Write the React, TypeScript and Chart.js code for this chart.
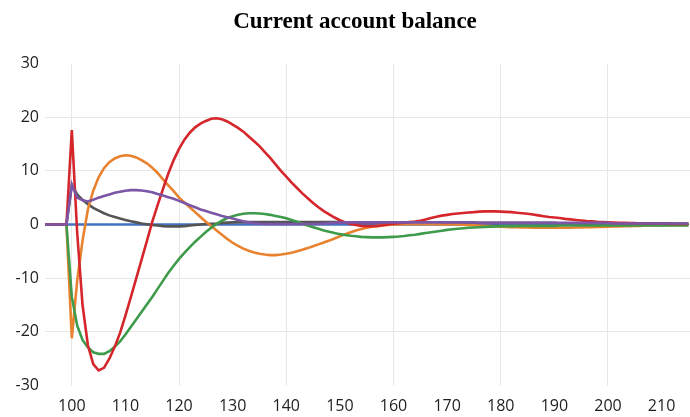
import { useEffect, useRef } from "react";
import { Chart, registerables } from "chart.js";

Chart.register(...registerables);

const chartTitle = "Current account balance";

const periods = [
  95, 96, 97, 98, 99,
  100, 101, 102, 103, 104, 105, 106, 107, 108, 109,
  110, 111, 112, 113, 114, 115, 116, 117, 118, 119,
  120, 121, 122, 123, 124, 125, 126, 127, 128, 129,
  130, 131, 132, 133, 134, 135, 136, 137, 138, 139,
  140, 141, 142, 143, 144, 145, 146, 147, 148, 149,
  150, 151, 152, 153, 154, 155, 156, 157, 158, 159,
  160, 161, 162, 163, 164, 165, 166, 167, 168, 169,
  170, 171, 172, 173, 174, 175, 176, 177, 178, 179,
  180, 181, 182, 183, 184, 185, 186, 187, 188, 189,
  190, 191, 192, 193, 194, 195, 196, 197, 198, 199,
  200, 201, 202, 203, 204, 205, 206, 207, 208, 209,
  210, 211, 212, 213, 214, 215,
];

const xTickValues = [100, 110, 120, 130, 140, 150, 160, 170, 180, 190, 200, 210];
const yTickValues = [-30, -20, -10, 0, 10, 20, 30];

const blueSeries = [
  0, 0, 0, 0, 0,
  0, 0, 0, 0, 0, 0, 0, 0, 0, 0,
  0, 0, 0, 0, 0, 0, 0, 0, 0, 0,
  0, 0, 0, 0, 0, 0, 0, 0, 0, 0,
  0, 0, 0, 0, 0, 0, 0, 0, 0, 0,
  0, 0, 0, 0, 0, 0, 0, 0, 0, 0,
  0, 0, 0, 0, 0, 0, 0, 0, 0, 0,
  0, 0, 0, 0, 0, 0, 0, 0, 0, 0,
  0, 0, 0, 0, 0, 0, 0, 0, 0, 0,
  0, 0, 0, 0, 0, 0, 0, 0, 0, 0,
  0, 0, 0, 0, 0, 0, 0, 0, 0, 0,
  0, 0, 0, 0, 0, 0, 0, 0, 0, 0,
  0, 0, 0, 0, 0, 0,
];

const redSeries = [
  0, 0, 0, 0, 0,
  17.6, -1.5, -15, -22.5, -26, -27.2, -26.7, -25, -22.8, -20.2,
  -17, -13.6, -10.1, -6.6, -3.1, 0.5, 3.6, 6.6, 9.5, 12,
  14.1, 15.8, 17.1, 18.1, 18.8, 19.3, 19.7, 19.8, 19.6, 19.2,
  18.6, 18.0, 17.3, 16.4, 15.5, 14.6, 13.5, 12.4, 11.2, 10.0,
  8.9, 7.8, 6.8, 5.8, 4.9, 4.0, 3.2, 2.5, 1.9, 1.3,
  0.8, 0.4, 0.1, -0.1, -0.25, -0.3, -0.3, -0.25, -0.15, 0,
  0.15, 0.25, 0.35, 0.45, 0.55, 0.7, 0.95, 1.2, 1.45, 1.65,
  1.8, 1.95, 2.05, 2.15, 2.25, 2.3, 2.4, 2.45, 2.45, 2.45,
  2.4, 2.35, 2.3, 2.2, 2.1, 2.0, 1.85, 1.7, 1.55, 1.4,
  1.3, 1.2, 1.05, 0.95, 0.85, 0.75, 0.65, 0.6, 0.5, 0.45,
  0.4, 0.35, 0.3, 0.3, 0.25, 0.25, 0.2, 0.2, 0.2, 0.15,
  0.15, 0.15, 0.1, 0.1, 0.1, 0.1,
];

const orangeSeries = [
  0, 0, 0, 0, 0,
  -21.2, -10.5, -3, 2.8, 6.3, 8.8, 10.5, 11.6, 12.3, 12.7,
  12.9, 12.8, 12.5, 12.0, 11.4, 10.6, 9.6, 8.4, 7.3, 6.2,
  5.0, 4.1, 3.2, 2.3, 1.4, 0.5, -0.3, -1.1, -1.9, -2.7,
  -3.4, -4.0, -4.5, -4.9, -5.2, -5.45, -5.6, -5.7, -5.7, -5.6,
  -5.45, -5.25, -5.0, -4.7, -4.4, -4.05, -3.7, -3.35, -3.0, -2.6,
  -2.2, -1.8, -1.45, -1.1, -0.85, -0.6, -0.4, -0.3, -0.2, -0.1,
  0, 0, 0.05, 0.05, 0.05, 0.05, 0.05, 0.05, 0.05, 0,
  0, 0, 0, -0.05, -0.1, -0.15, -0.2, -0.25, -0.3, -0.35,
  -0.4, -0.45, -0.5, -0.5, -0.55, -0.55, -0.6, -0.6, -0.6, -0.6,
  -0.6, -0.6, -0.6, -0.6, -0.55, -0.55, -0.5, -0.5, -0.45, -0.45,
  -0.4, -0.35, -0.35, -0.3, -0.3, -0.25, -0.25, -0.2, -0.2, -0.2,
  -0.15, -0.15, -0.15, -0.1, -0.1, -0.1,
];

const greenSeries = [
  0, 0, 0, 0, 0,
  -13.5, -18.8, -21.5, -22.9, -23.8, -24.1, -24.1, -23.6, -22.8, -21.8,
  -20.5, -19.1, -17.7, -16.3, -14.9, -13.5, -12.0, -10.5, -9.0, -7.7,
  -6.4, -5.3, -4.2, -3.2, -2.3, -1.4, -0.6, 0.1, 0.7, 1.2,
  1.55, 1.8, 2.0, 2.1, 2.1, 2.05, 1.95, 1.8, 1.6, 1.4,
  1.15, 0.85, 0.5, 0.15, -0.2, -0.5, -0.8, -1.1, -1.35, -1.6,
  -1.8, -1.95, -2.1, -2.2, -2.3, -2.35, -2.4, -2.4, -2.4, -2.35,
  -2.3, -2.25, -2.15, -2.0, -1.9, -1.75, -1.6, -1.45, -1.3, -1.15,
  -1.0, -0.9, -0.8, -0.7, -0.6, -0.55, -0.5, -0.45, -0.4, -0.35,
  -0.3, -0.3, -0.3, -0.25, -0.25, -0.25, -0.25, -0.25, -0.25, -0.25,
  -0.25, -0.2, -0.2, -0.2, -0.2, -0.2, -0.2, -0.2, -0.2, -0.2,
  -0.2, -0.2, -0.2, -0.2, -0.2, -0.2, -0.2, -0.2, -0.2, -0.2,
  -0.2, -0.2, -0.2, -0.2, -0.2, -0.2,
];

const purpleSeries = [
  0, 0, 0, 0, 0,
  7.5, 5.0, 4.5, 4.3, 4.6, 5.0, 5.3, 5.6, 5.9, 6.1,
  6.3, 6.4, 6.4, 6.35, 6.2, 6.0, 5.7, 5.4, 5.1, 4.8,
  4.4, 4.0, 3.6, 3.2, 2.8, 2.5, 2.2, 1.9, 1.6, 1.35,
  1.1, 0.85, 0.6, 0.4, 0.25, 0.15, 0.1, 0.1, 0.1, 0.1,
  0.1, 0.1, 0.1, 0.1, 0.1, 0.1, 0.15, 0.2, 0.25, 0.3,
  0.35, 0.4, 0.4, 0.4, 0.4, 0.4, 0.4, 0.4, 0.4, 0.4,
  0.4, 0.4, 0.4, 0.4, 0.4, 0.4, 0.4, 0.4, 0.4, 0.4,
  0.4, 0.4, 0.4, 0.4, 0.4, 0.4, 0.3, 0.3, 0.3, 0.3,
  0.3, 0.3, 0.3, 0.3, 0.3, 0.3, 0.3, 0.3, 0.3, 0.3,
  0.3, 0.3, 0.3, 0.3, 0.3, 0.3, 0.3, 0.3, 0.3, 0.3,
  0.3, 0.2, 0.2, 0.2, 0.2, 0.2, 0.2, 0.2, 0.2, 0.2,
  0.2, 0.2, 0.2, 0.2, 0.2, 0.2,
];

const graySeries = [
  0, 0, 0, 0, 0,
  7.3, 5.6, 4.6, 3.8, 3.1, 2.6, 2.1, 1.7, 1.4, 1.1,
  0.85, 0.6, 0.4, 0.2, 0.05, -0.1, -0.2, -0.3, -0.35, -0.35,
  -0.35, -0.3, -0.2, -0.1, 0, 0.1, 0.15, 0.2, 0.3, 0.35,
  0.4, 0.45, 0.45, 0.45, 0.45, 0.45, 0.45, 0.45, 0.45, 0.45,
  0.45, 0.45, 0.45, 0.45, 0.45, 0.45, 0.45, 0.45, 0.45, 0.45,
  0.45, 0.4, 0.4, 0.4, 0.4, 0.4, 0.4, 0.4, 0.4, 0.4,
  0.4, 0.4, 0.4, 0.4, 0.4, 0.4, 0.4, 0.4, 0.4, 0.4,
  0.4, 0.3, 0.3, 0.3, 0.3, 0.3, 0.3, 0.3, 0.3, 0.3,
  0.3, 0.3, 0.3, 0.3, 0.3, 0.3, 0.3, 0.3, 0.3, 0.3,
  0.3, 0.2, 0.2, 0.2, 0.2, 0.2, 0.2, 0.2, 0.2, 0.2,
  0.2, 0.2, 0.2, 0.2, 0.2, 0.2, 0.2, 0.2, 0.2, 0.2,
  0.2, 0.2, 0.2, 0.2, 0.2, 0.2,
];

const seriesList = [
  { name: "Series 6", values: purpleSeries, color: "#7b55a6" },
  { name: "Series 4", values: redSeries, color: "#d5262c" },
  { name: "Series 5", values: greenSeries, color: "#3d9b4b" },
  { name: "Series 2", values: orangeSeries, color: "#e8822e" },
  { name: "Series 3", values: graySeries, color: "#555555" },
  { name: "Series 1", values: blueSeries, color: "#4472c4" },
];

const tickFont = { family: "'Open Sans', 'Noto Sans', sans-serif", size: 16 };
const tickColor = "#1e1e1e";
const gridColor = "#e7e7e7";

const titlePlugin = {
  id: "offsetTitle",
  afterDraw(chart: any) {
    const ctx = chart.ctx;
    ctx.save();
    ctx.font = "bold 23px 'Liberation Serif', 'Times New Roman', serif";
    ctx.fillStyle = "#000000";
    ctx.textAlign = "center";
    ctx.textBaseline = "middle";
    ctx.fillText(chartTitle, 355, 22);
    ctx.restore();
  },
};

export default function App() {
  const canvasRef = useRef<HTMLCanvasElement | null>(null);

  useEffect(() => {
    const canvas = canvasRef.current;
    if (!canvas) return;
    const chart = new Chart(canvas, {
      type: "line",
      data: {
        datasets: seriesList.map((s) => ({
          label: s.name,
          data: periods.map((p, i) => ({ x: p, y: s.values[i] })),
          borderColor: s.color,
          backgroundColor: s.color,
          borderWidth: 2.6,
          pointRadius: 0,
          pointHoverRadius: 0,
          tension: 0,
          fill: false,
        })),
      },
      options: {
        animation: false,
        responsive: true,
        maintainAspectRatio: false,
        layout: { padding: { left: 0, right: 0, top: 63.5, bottom: 0 } },
        plugins: {
          legend: { display: false },
          tooltip: { enabled: false },
          title: { display: false },
        },
        scales: {
          x: {
            type: "linear",
            min: 95,
            max: 215.3,
            afterBuildTicks: (scale: any) => {
              scale.ticks = xTickValues.map((v) => ({ value: v }));
            },
            afterFit: (scale: any) => {
              scale.height = 31.5;
            },
            grid: {
              drawTicks: false,
              color: (ctx: any) =>
                ctx.tick && ctx.tick.value % 20 === 0 ? gridColor : "rgba(0,0,0,0)",
              lineWidth: 1,
            },
            border: { display: false },
            ticks: {
              font: tickFont,
              color: tickColor,
              padding: 11,
              maxRotation: 0,
              autoSkip: false,
              callback: (v: any) => String(v),
            },
          },
          y: {
            type: "linear",
            min: -30,
            max: 30,
            afterBuildTicks: (scale: any) => {
              scale.ticks = yTickValues.map((v) => ({ value: v }));
            },
            afterFit: (scale: any) => {
              scale.width = 45;
            },
            grid: {
              drawTicks: false,
              color: (ctx: any) =>
                ctx.tick && Math.abs(ctx.tick.value) === 30 ? "rgba(0,0,0,0)" : gridColor,
              lineWidth: 1,
            },
            border: { display: false },
            ticks: {
              font: tickFont,
              color: tickColor,
              padding: 6,
              callback: (v: any) => String(v),
            },
          },
        },
      },
      plugins: [titlePlugin],
    });
    return () => chart.destroy();
  }, []);

  return (
    <div style={{ position: "fixed", left: 0, top: 0, width: 690, height: 417, background: "#ffffff" }}>
      <canvas ref={canvasRef} />
    </div>
  );
}
